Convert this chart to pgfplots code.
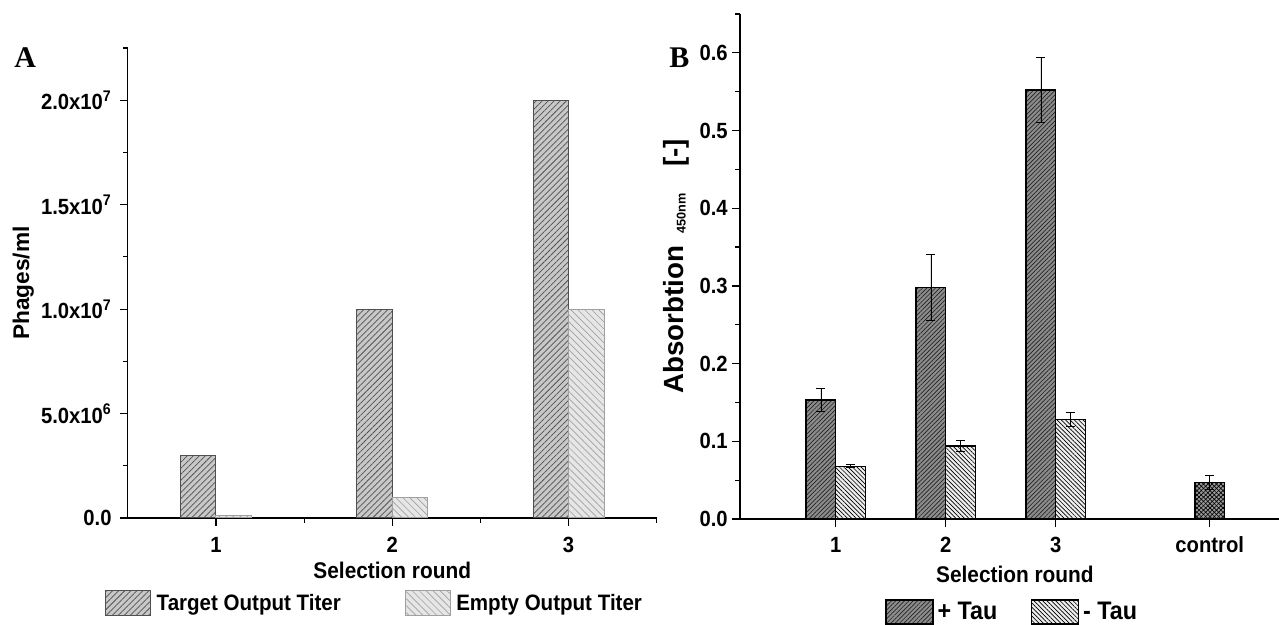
\documentclass[border=0pt]{standalone}
\usepackage{fontspec}
\setmainfont{Liberation Sans}[FakeStretch=0.92]
\newfontfamily\widesans{Liberation Sans}
\newfontfamily\serifb{Liberation Serif}
\usepackage{pgfplots}
\pgfplotsset{compat=1.18}
\usetikzlibrary{patterns.meta}

\definecolor{tgtfill}{HTML}{C8C8C8}
\definecolor{tgtline}{HTML}{505050}
\definecolor{empfill}{HTML}{E6E6E6}
\definecolor{empline}{HTML}{A0A0A0}
\definecolor{ptfill}{HTML}{8C8C8C}
\definecolor{ptline}{HTML}{222222}
\definecolor{mtfill}{HTML}{EEEEEE}
\definecolor{ctfill}{HTML}{9A9A9A}

\newcommand\fs[1]{\fontsize{#1}{#1}\selectfont}

\pgfplotsset{
  legA/.style={legend image code/.code={\draw[##1] (0pt,-9.4pt) rectangle (33.75pt,9.4pt);}},
  legB/.style={legend image code/.code={\draw[##1] (0pt,-9pt) rectangle (35.25pt,9pt);}},
}

\begin{document}
\begin{tikzpicture}
\useasboundingbox (0,0) rectangle (959.25pt,468.75pt);

% ---------------- Panel A ----------------
\begin{axis}[
  at={(95.85pt,80.25pt)}, anchor=south west,
  scale only axis, width=396.7pt, height=352.5pt,
  xmin=0.5, xmax=3.5, ymin=0, ymax=22500000,
  axis lines*=left,
  axis line style={-, line width=1pt, black},
  ybar, bar width=26.6pt,
  xtick={1,2,3}, xticklabels={1,2,3}, minor xtick={1.5,2.5,3.5},
  ytick={0,5000000,10000000,15000000,20000000},
  yticklabels={0.0,5.0x10\textsuperscript{6},1.0x10\textsuperscript{7},1.5x10\textsuperscript{7},2.0x10\textsuperscript{7}},
  minor ytick={2500000,7500000,12500000,17500000,22500000},
  scaled y ticks=false,
  tick align=outside, major tick length=6pt, minor tick length=3.5pt,
  tick style={line width=0.9pt, black},
  xticklabel style={font=\fs{16.5pt}\bfseries, anchor=base, yshift=-19.5pt},
  yticklabel style={font=\fs{16.5pt}\bfseries, anchor=east, inner sep=0pt, xshift=-6pt},
  xlabel={\bfseries Selection round},
  xlabel style={font=\fs{17pt}, at={(axis description cs:0.5,-0.1277)}, anchor=base},
  legend columns=2,
  legend style={at={(axis description cs:-0.043,-0.181)}, anchor=west, draw=none, fill=none,
    inner sep=0pt, font=\fs{16.75pt}\bfseries,
    nodes={inner xsep=4pt, inner ysep=0pt},
    /tikz/every even column/.append style={column sep=44pt}},
]
\addplot[legA, bar shift=-13.3pt, draw=tgtline, line width=0.8pt, fill=tgtfill,
  postaction={pattern={Lines[angle=45,distance=3.2pt,line width=0.55pt]}, pattern color=tgtline}]
  coordinates {(1,3000000) (2,10000000) (3,20000000)};
\addplot[legA, bar shift=13.3pt, draw=empline, line width=0.8pt, fill=empfill,
  postaction={pattern={Lines[angle=-45,distance=3.7pt,line width=0.5pt]}, pattern color=empline}]
  coordinates {(1,100000) (2,1000000) (3,10000000)};
\legend{Target Output Titer, Empty Output Titer}
\end{axis}

% ---------------- Panel B ----------------
\begin{axis}[
  at={(555pt,79.5pt)}, anchor=south west,
  scale only axis, width=404.25pt, height=378.75pt,
  xmin=0.13, xmax=5.03, ymin=0, ymax=0.65,
  axis lines*=left,
  axis line style={-, line width=1pt, black},
  ybar, bar width=22.2pt,
  xtick={1,2,3,4.4}, xticklabels={1,2,3,control},
  ytick={0,0.1,0.2,0.3,0.4,0.5,0.6},
  minor ytick={0.05,0.15,0.25,0.35,0.45,0.55,0.65},
  tick align=outside, major tick length=6pt, minor tick length=3.5pt,
  tick style={line width=0.9pt, black},
  xticklabel style={font=\fs{16.5pt}\bfseries, anchor=base, yshift=-19.5pt},
  yticklabel style={font=\fs{16.5pt}\bfseries, anchor=east, inner sep=0pt, xshift=-3pt,
    /pgf/number format/.cd, fixed, fixed zerofill, precision=1, assume math mode=true},
  xlabel={\bfseries Selection round},
  xlabel style={font=\fs{17pt}, at={(axis description cs:0.51,-0.1267)}, anchor=base},
  legend columns=2,
  legend style={at={(axis description cs:0.269,-0.184)}, anchor=west, draw=none, fill=none,
    inner sep=0pt, font=\fs{19pt}\bfseries,
    nodes={inner xsep=3pt, inner ysep=0pt},
    /tikz/every even column/.append style={column sep=22pt}},
  error bars/error bar style={line width=0.6pt, black},
  error bars/error mark options={rotate=90, mark size=3.4pt, line width=0.6pt, black},
]
\addplot[legB, bar shift=-11.1pt, draw=black, line width=1pt, fill=ptfill,
  postaction={pattern={Lines[angle=45,distance=2.3pt,line width=0.5pt]}, pattern color=ptline},
  error bars/.cd, y dir=both, y explicit]
  coordinates {(1,0.153) +- (0,0.0145) (2,0.298) +- (0,0.042) (3,0.552) +- (0,0.042)};
\addplot[legB, bar shift=11.1pt, draw=black, line width=1pt, fill=mtfill,
  postaction={pattern={Lines[angle=-45,distance=2.3pt,line width=0.5pt]}, pattern color=black},
  error bars/.cd, y dir=both, y explicit]
  coordinates {(1,0.068) +- (0,0.002) (2,0.094) +- (0,0.007) (3,0.128) +- (0,0.009)};
\addplot[forget plot, bar shift=0pt, draw=black, line width=1pt, fill=ctfill,
  postaction={pattern={Lines[angle=45,distance=2.3pt,line width=0.5pt]}, pattern color=black},
  postaction={pattern={Lines[angle=-45,distance=2.3pt,line width=0.5pt]}, pattern color=black},
  error bars/.cd, y dir=both, y explicit]
  coordinates {(4.4,0.047) +- (0,0.0095)};
\legend{+ Tau, - Tau}
\end{axis}

% ---------------- free labels ----------------
\node[anchor=base west, inner sep=0pt, font=\serifb\bfseries\fs{22.5pt}] at (10.5pt,417.75pt) {A};
\node[anchor=base west, inner sep=0pt, font=\serifb\bfseries\fs{22.5pt}] at (501.75pt,417.75pt) {B};
\node[anchor=base, rotate=90, inner sep=0pt, font=\widesans\bfseries\fs{17pt}] at (21.75pt,256.5pt) {Phages/ml};
\node[anchor=base, rotate=90, inner sep=0pt, font=\widesans\bfseries\fs{20.8pt}] at (512.25pt,268.9pt)
  {Absorbtion\hspace{9pt}{\fs{9.5pt}\raisebox{-2pt}{450nm}}\hspace{20pt}[-]};
\end{tikzpicture}
\end{document}
